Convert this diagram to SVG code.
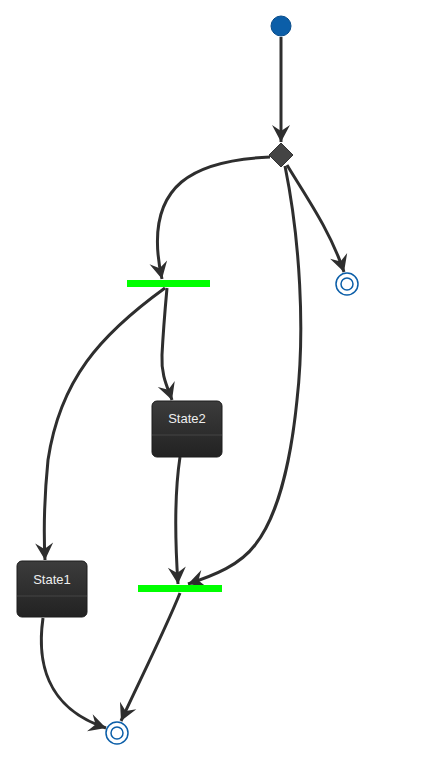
<svg xmlns="http://www.w3.org/2000/svg" width="432" height="763" viewBox="0 0 432 763">
<style>
.edge{fill:none;stroke:#2e2e2e;stroke-width:3;}
.state{stroke:#1c1c1c;stroke-width:1;}
.div{stroke:#444;stroke-width:1;}
.lbl{font-family:"Liberation Sans",Arial,sans-serif;font-size:13px;fill:#eeeeee;text-anchor:middle;}
.bar{fill:#00ff00;}
.end{fill:none;stroke:#0b5ea8;stroke-width:1.5;}
</style>
<defs>
<linearGradient id="sg" x1="0" y1="0" x2="0" y2="1">
<stop offset="0" stop-color="#3c3c3c"/>
<stop offset="1" stop-color="#222"/>
</linearGradient>
<marker id="ah" viewBox="-18 -10 20 20" refX="0" refY="0" markerWidth="20" markerHeight="20" markerUnits="userSpaceOnUse" orient="auto">
<path d="M0,0 L-17,-9 L-11,0 L-17,9 Z" fill="#2e2e2e"/>
</marker>
</defs>
<g id="connectors">
<path class="edge" marker-end="url(#ah)" d="M281,37 L281,142"/>
<path class="edge" marker-end="url(#ah)" d="M270,157 C200,160 140,180 162,279"/>
<path class="edge" marker-end="url(#ah)" d="M287,165 C305,195 330,230 344,272"/>
<path class="edge" marker-end="url(#ah)" d="M285,166 C300,240 305,330 297,400 C290,470 275,520 255,545 C240,565 215,575 188,584"/>
<path class="edge" marker-end="url(#ah)" d="M165,288 C100,335 60,380 48,460 C43,510 44,540 45,560"/>
<path class="edge" marker-end="url(#ah)" d="M167,288 C165,310 163,335 162,355 C161,375 167,386 172,400"/>
<path class="edge" marker-end="url(#ah)" d="M180,457 C175,490 175,540 178,584"/>
<path class="edge" marker-end="url(#ah)" d="M43,618 C37,660 45,708 106,728"/>
<path class="edge" marker-end="url(#ah)" d="M180,593 C165,630 140,680 121,721"/>
</g>
<g id="start"><circle cx="281" cy="26" r="10" fill="#0b5ea8" stroke="#084c8a" stroke-width="1"/></g>
<g id="choice"><polygon points="281,143 293,155 281,167 269,155" fill="#444" stroke="#333" stroke-width="1"/></g>
<g id="fork1"><rect class="bar" x="127" y="280" width="83" height="7"/></g>
<g id="join1"><rect class="bar" x="138" y="585" width="84" height="7"/></g>
<g id="end1"><circle class="end" cx="347" cy="284" r="11"/><circle class="end" cx="347" cy="284" r="6"/></g>
<g id="end2"><circle class="end" cx="117" cy="733" r="11"/><circle class="end" cx="117" cy="733" r="6"/></g>
<g id="State2">
<rect class="state" x="152" y="401" width="70" height="56" rx="5" fill="url(#sg)"/>
<line class="div" x1="152" y1="435" x2="222" y2="435"/>
<text class="lbl" x="187" y="423">State2</text>
</g>
<g id="State1">
<rect class="state" x="17" y="561" width="70" height="56" rx="5" fill="url(#sg)"/>
<line class="div" x1="17" y1="596" x2="87" y2="596"/>
<text class="lbl" x="52" y="584">State1</text>
</g>
</svg>
